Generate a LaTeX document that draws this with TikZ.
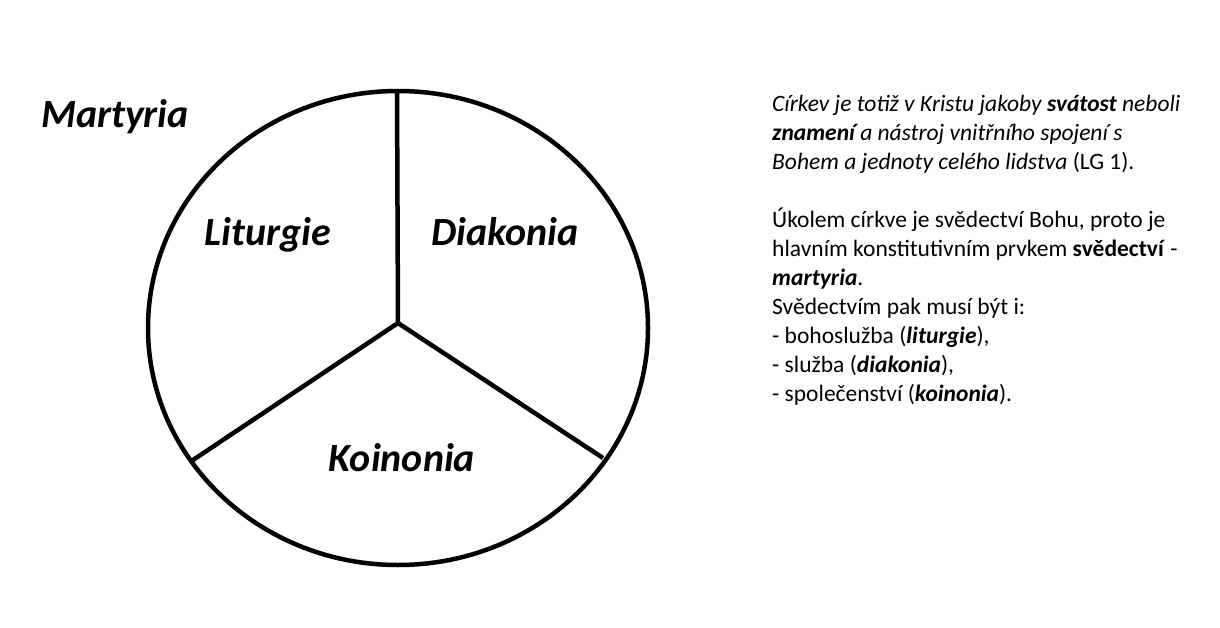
\documentclass[tikz,border=0pt]{standalone}
\usepackage{fontspec}
\setmainfont{Carlito}
\usetikzlibrary{positioning}
\tikzstyle{sector} = [anchor=base, font=\fontsize{40}{44}\selectfont\bfseries\itshape]
\tikzstyle{divider} = [line width=4.5pt, color=black]
\begin{document}
\begin{tikzpicture}[x=1pt, y=-1pt]
\useasboundingbox (0,0) rectangle (1220,628);
% Circle with three parts
\draw[divider] (398,328) ellipse [x radius=250, y radius=237];
\coordinate (hub) at (398,323);
\coordinate (top) at (397,91);
\coordinate (lowleft) at (193,460);
\coordinate (lowright) at (603,458);
\draw[divider, line join=miter] (top) -- (hub) -- (lowleft);
\draw[divider] (hub) -- (lowright);

% Parts
\node[sector] (martyria) at (115,128) {Martyria};
\node[sector] (liturgie) at (268,246) {Liturgie};
\node[sector] (diakonia) at (505,246) {Diakonia};
\node[sector] (koinonia) at (402,471) {Koinonia};

% Note
\node[anchor=north west, inner sep=0pt, align=left, font=\fontsize{23.5}{29}\selectfont] (note) at (772,95)
{\textit{Církev je totiž v Kristu jakoby \textbf{svátost} neboli}\\
\textit{\textbf{znamení} a nástroj vnitřního spojení s}\\
\textit{Bohem a jednoty celého lidstva} (LG 1).\\[29pt]
Úkolem církve je svědectví Bohu, proto je\\
hlavním konstitutivním prvkem \textbf{svědectví} -\\
\textbf{\textit{martyria}}.\\
Svědectvím pak musí být i:\\
- bohoslužba (\textbf{\textit{liturgie}}),\\
- služba (\textbf{\textit{diakonia}}),\\
- společenství (\textbf{\textit{koinonia}}).};
\end{tikzpicture}
\end{document}
